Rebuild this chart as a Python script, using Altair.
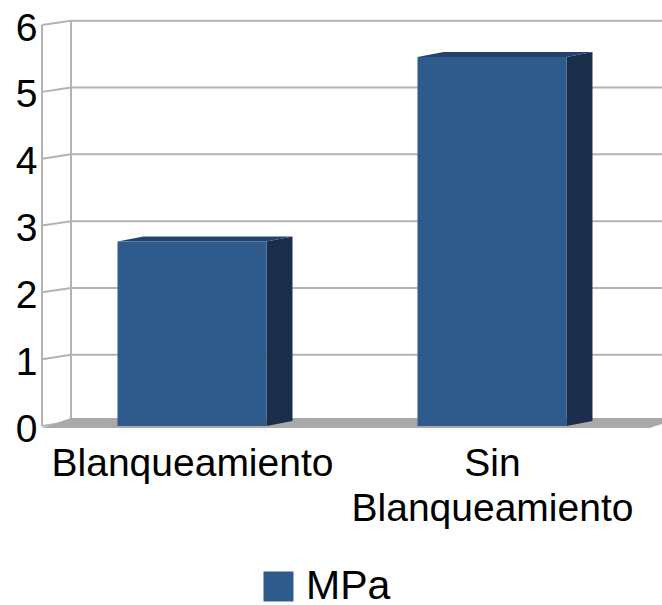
import altair as alt
import pandas as pd

# ---- data ----
categories = ["Blanqueamiento", "Sin Blanqueamiento"]
values = [2.76, 5.52]
series_name = "MPa"
y_ticks = [0, 1, 2, 3, 4, 5, 6]

# ---- style / geometry constants ----
FONT = "Liberation Sans"
FRONT = "#2e5a8c"
TOP = "#23426c"
SIDE = "#1a2d4b"
GRID = "#b3b3b3"
FLOOR = "#a9a9a9"

X_MIN, X_MAX = -0.5, 1.5667
Y_MIN, Y_MAX = 0, 6.3
HW = 0.2483          # bar half width (category units)
BAR_DX, BAR_DY = 0.0867, 0.075
WALL_DX, WALL_DY = 0.0967, 0.065
FLOOR_FRONT, FLOOR_BACK = -0.03, 0.12

xs = alt.Scale(domain=[X_MIN, X_MAX], nice=False, zero=False)
ys = alt.Scale(domain=[Y_MIN, Y_MAX], nice=False, zero=False)

label_expr = "split(" + str(list(categories)) + "[datum.value], ' ')"

x_axis = alt.Axis(
    values=list(range(len(categories))),
    labelExpr=label_expr,
    title=None,
    ticks=False,
    domain=False,
    grid=False,
    labelFont=FONT,
    labelFontSize=39,
    labelColor="#000000",
    labelLineHeight=45,
    labelPadding=18,
    labelLimit=500,
    labelOverlap=False,
    labelFlush=False,
    labelBound=False,
    labelBaseline="top",
)
y_axis = alt.Axis(
    values=y_ticks,
    title=None,
    ticks=False,
    domain=False,
    grid=False,
    labelFont=FONT,
    labelFontSize=39,
    labelColor="#000000",
    labelPadding=5,
    labelOffset=3,
    labelOverlap=False,
    labelFlush=False,
    labelBound=False,
)

# ---- tables built from the arrays ----
bars = pd.DataFrame({"cat": categories, "idx": range(len(categories)), "value": values})
bars["series"] = series_name
bars["x0"] = bars["idx"] - HW
bars["x1"] = bars["idx"] + HW
bars["base"] = 0.0

top_rows, side_rows = [], []
for i, v in zip(bars["idx"], bars["value"]):
    top_rows.append({"bar": i, "y": v, "xa": i - HW, "xb": i + HW})
    top_rows.append({"bar": i, "y": v + BAR_DY, "xa": i - HW + BAR_DX, "xb": i + HW + BAR_DX})
    side_rows.append({"bar": i, "x": i + HW, "ya": v, "yb": 0.0})
    side_rows.append({"bar": i, "x": i + HW + BAR_DX, "ya": v + BAR_DY, "yb": BAR_DY})
top_df = pd.DataFrame(top_rows)
side_df = pd.DataFrame(side_rows)

lines = []
for t in y_ticks:
    lines.append({"xa": X_MIN + WALL_DX, "xb": X_MAX + 0.2, "ya": t + WALL_DY, "yb": t + WALL_DY})
    lines.append({"xa": X_MIN, "xb": X_MIN + WALL_DX, "ya": t, "yb": t + WALL_DY})
lines.append({"xa": X_MIN, "xb": X_MIN, "ya": 0, "yb": max(y_ticks)})
lines.append({"xa": X_MIN + WALL_DX, "xb": X_MIN + WALL_DX, "ya": WALL_DY, "yb": max(y_ticks) + WALL_DY})
lines_df = pd.DataFrame(lines)

floor_df = pd.DataFrame([
    {"y": FLOOR_FRONT, "xa": X_MIN, "xb": 1.525},
    {"y": FLOOR_BACK, "xa": X_MIN + WALL_DX, "xb": 1.525 + WALL_DX + 0.01},
])

# ---- layers ----
grid_layer = alt.Chart(lines_df).mark_rule(color=GRID, strokeWidth=2).encode(
    x=alt.X("xa:Q", scale=xs, axis=x_axis),
    x2="xb:Q",
    y=alt.Y("ya:Q", scale=ys, axis=y_axis),
    y2="yb:Q",
)

floor_layer = alt.Chart(floor_df).mark_area(color=FLOOR, orient="horizontal").encode(
    y=alt.Y("y:Q", scale=ys, axis=y_axis),
    x=alt.X("xa:Q", scale=xs, axis=x_axis),
    x2="xb:Q",
)

top_layer = alt.Chart(top_df).mark_area(color=TOP, orient="horizontal").encode(
    y=alt.Y("y:Q", scale=ys, axis=y_axis),
    x=alt.X("xa:Q", scale=xs, axis=x_axis),
    x2="xb:Q",
    detail="bar:N",
)

side_layer = alt.Chart(side_df).mark_area(color=SIDE, orient="vertical").encode(
    x=alt.X("x:Q", scale=xs, axis=x_axis),
    y=alt.Y("ya:Q", scale=ys, axis=y_axis),
    y2="yb:Q",
    detail="bar:N",
)

front_layer = alt.Chart(bars).mark_rect().encode(
    x=alt.X("x0:Q", scale=xs, axis=x_axis),
    x2="x1:Q",
    y=alt.Y("value:Q", scale=ys, axis=y_axis),
    y2="base:Q",
    color=alt.Color(
        "series:N",
        scale=alt.Scale(domain=[series_name], range=[FRONT]),
        legend=alt.Legend(
            title=None,
            orient="none",
            legendX=216,
            legendY=561,
            direction="horizontal",
            symbolType="square",
            symbolSize=900,
            symbolStrokeWidth=0,
            symbolOpacity=1,
            labelFont=FONT,
            labelFontSize=41,
            labelColor="#000000",
            labelOffset=7,
            padding=0,
        ),
    ),
)

chart = alt.layer(
    grid_layer, floor_layer, side_layer, top_layer, front_layer
).properties(
    width=620,
    height=421,
    autosize="none",
    padding={"left": 42, "top": 5, "right": 0, "bottom": 179},
    background="white",
).configure_view(stroke=None)

chart.save("out.html", embed_options={"renderer": "svg", "actions": False})
